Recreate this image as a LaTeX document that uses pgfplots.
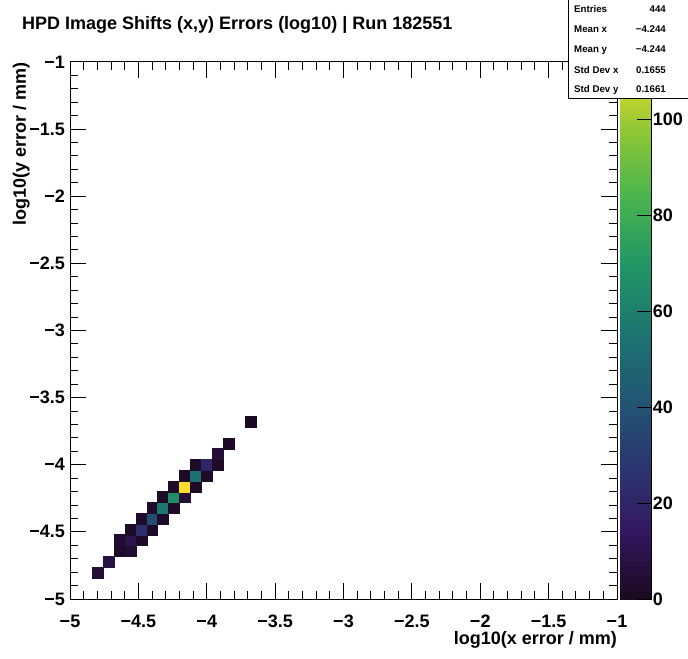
\documentclass[border=0pt]{standalone}
\usepackage{fontspec}
\setmainfont{Liberation Sans}
\usepackage{pgfplots}
\pgfplotsset{compat=1.18}
\newcommand{\bigf}{\fontsize{18bp}{21bp}\selectfont\bfseries}
\newcommand{\smallf}{\fontsize{9.7bp}{11bp}\selectfont\bfseries}
\begin{document}
\begin{tikzpicture}
\useasboundingbox (0,0) rectangle (688bp,659bp);
\begin{axis}[
  at={(70bp,60bp)}, anchor=south west,
  scale only axis, width=547bp, height=537bp,
  xmin=-5, xmax=-1, ymin=-5, ymax=-1,
  xtick={-5,-4.5,-4,-3.5,-3,-2.5,-2,-1.5,-1},
  ytick={-5,-4.5,-4,-3.5,-3,-2.5,-2,-1.5,-1},
  xticklabels={−5,−4.5,−4,−3.5,−3,−2.5,−2,−1.5,−1},
  yticklabels={−5,−4.5,−4,−3.5,−3,−2.5,−2,−1.5,−1},
  minor x tick num=4, minor y tick num=4,
  tick align=inside,
  major tick length=16bp, minor tick length=8bp,
  every tick/.style={black, line width=1bp},
  axis line style={line width=1bp},
  xticklabel style={font=\bigf, inner sep=0pt, yshift=-16bp},
  yticklabel style={font=\bigf, inner sep=0pt, xshift=-5bp},
  xlabel={log10(x error / mm)},
  ylabel={log10(y error / mm)},
  xlabel style={font=\bigf, at={(rel axis cs:1,-0.0596)}, anchor=north east, inner sep=0pt},
  ylabel style={font=\bigf, at={(rel axis cs:-0.0731,1)}, anchor=south east, inner sep=0pt},
  colormap={rootviridis}{rgb255=(26,9,30) rgb255=(51,24,96) rgb255=(43,55,112) rgb255=(33,87,114) rgb255=(28,118,112) rgb255=(35,150,101) rgb255=(74,180,78) rgb255=(144,200,53) rgb255=(246,222,43)},
  point meta min=0, point meta max=112,
  colorbar,
  colorbar/width=31.7bp,
  colorbar shift/.style={xshift=3bp},
  colorbar style={
    at={(parent axis.north east)}, anchor=north west,
    scale only axis, width=31.7bp, height=537bp,
    axis y line*=right, axis x line=none,
    ytick={0,20,40,60,80,100}, yticklabels={0,20,40,60,80,100},
    ytick pos=right, yticklabel pos=right,
    tick align=inside, major tick length=15bp,
    every tick/.style={black, line width=1bp},
    axis line style={line width=1bp},
    yticklabel style={font=\bigf, inner sep=0pt, xshift=1bp, anchor=west},
  },
]
\addplot[scatter, only marks, mark=square*, mark size=5.47bp,
  scatter src=explicit, scatter/use mapped color={draw=mapped color, fill=mapped color},
  mark options={line width=0.1pt}]
  table[meta=c] {
x y c
-4.80 -4.80 5
-4.72 -4.72 8
-4.64 -4.64 2
-4.56 -4.64 4
-4.64 -4.56 4
-4.56 -4.56 10
-4.48 -4.56 2
-4.56 -4.48 2
-4.48 -4.48 24
-4.40 -4.48 2
-4.48 -4.40 3
-4.40 -4.40 37
-4.32 -4.40 3
-4.40 -4.32 3
-4.32 -4.32 56
-4.24 -4.32 2
-4.32 -4.24 2
-4.24 -4.24 66
-4.16 -4.24 5
-4.24 -4.16 2
-4.16 -4.16 112
-4.08 -4.16 2
-4.16 -4.08 2
-4.08 -4.08 53
-4.00 -4.08 2
-4.08 -4.00 2
-4.00 -4.00 20
-3.92 -4.00 2
-3.92 -3.92 5
-3.84 -3.84 2
-3.68 -3.68 1
};
\end{axis}
\node[anchor=base west, inner sep=0pt, font=\bigf] at (22bp,629bp) {HPD Image Shifts (x,y) Errors (log10) | Run 182551};
\draw[line width=1bp, fill=white] (568.5bp,560bp) rectangle (690bp,662bp);
\node[anchor=base west, inner sep=0pt, font=\smallf] at (574bp,646.3bp) {Entries};
\node[anchor=base west, inner sep=0pt, font=\smallf] at (574bp,626bp) {Mean x};
\node[anchor=base west, inner sep=0pt, font=\smallf] at (574bp,606.5bp) {Mean y};
\node[anchor=base west, inner sep=0pt, font=\smallf] at (574bp,585bp) {Std Dev x};
\node[anchor=base west, inner sep=0pt, font=\smallf] at (574bp,566.5bp) {Std Dev y};
\node[anchor=base east, inner sep=0pt, font=\smallf] at (666bp,646.3bp) {444};
\node[anchor=base east, inner sep=0pt, font=\smallf] at (666bp,626bp) {−4.244};
\node[anchor=base east, inner sep=0pt, font=\smallf] at (666bp,606.5bp) {−4.244};
\node[anchor=base east, inner sep=0pt, font=\smallf] at (666bp,585bp) {0.1655};
\node[anchor=base east, inner sep=0pt, font=\smallf] at (666bp,566.5bp) {0.1661};
\end{tikzpicture}
\end{document}
